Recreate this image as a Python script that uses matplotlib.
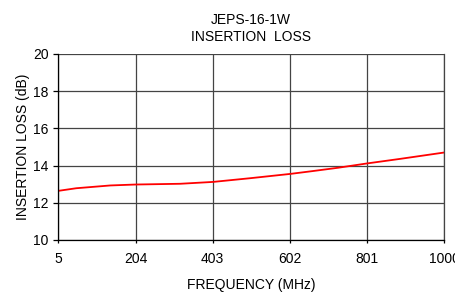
import numpy as np
import matplotlib.pyplot as plt

plt.rcParams['font.family'] = ['Liberation Sans', 'DejaVu Sans']

freq = [5, 51, 139, 204, 319, 404, 500, 603, 660, 726, 800, 887, 1000]
loss = [12.64, 12.78, 12.93, 12.98, 13.02, 13.12, 13.32, 13.55, 13.70, 13.88, 14.11, 14.36, 14.70]
x_ticks = [5, 204, 403, 602, 801, 1000]
y_ticks = [10, 12, 14, 16, 18, 20]

fig = plt.figure(figsize=(4.56, 2.93), dpi=100)
ax = fig.add_axes([0.128, 0.181, 0.846, 0.635])
ax.plot(freq, loss, color='#ff0000', linewidth=1.3)
ax.set(xlim=(5, 1000), ylim=(10, 20))
ax.set_xticks(x_ticks)
ax.set_yticks(y_ticks)
ax.grid(color='#444444', linewidth=0.9)
for s in ax.spines.values():
    s.set_linewidth(0.9)
ax.spines['top'].set_visible(False)
ax.spines['right'].set_color('#444444')
ax.tick_params(axis='y', labelsize=10, length=3.5, width=0.9, pad=3.5)
ax.tick_params(axis='x', labelsize=10, length=2.5, width=0.9, pad=6.5)
ax.set_xlabel('FREQUENCY (MHz)', fontsize=10, labelpad=8)
ax.set_ylabel('INSERTION LOSS (dB)', fontsize=10, labelpad=2)
ax.set_title('JEPS-16-1W\nINSERTION  LOSS', fontsize=10, pad=9, linespacing=1.35)

fig.savefig('out.png', dpi=100)
